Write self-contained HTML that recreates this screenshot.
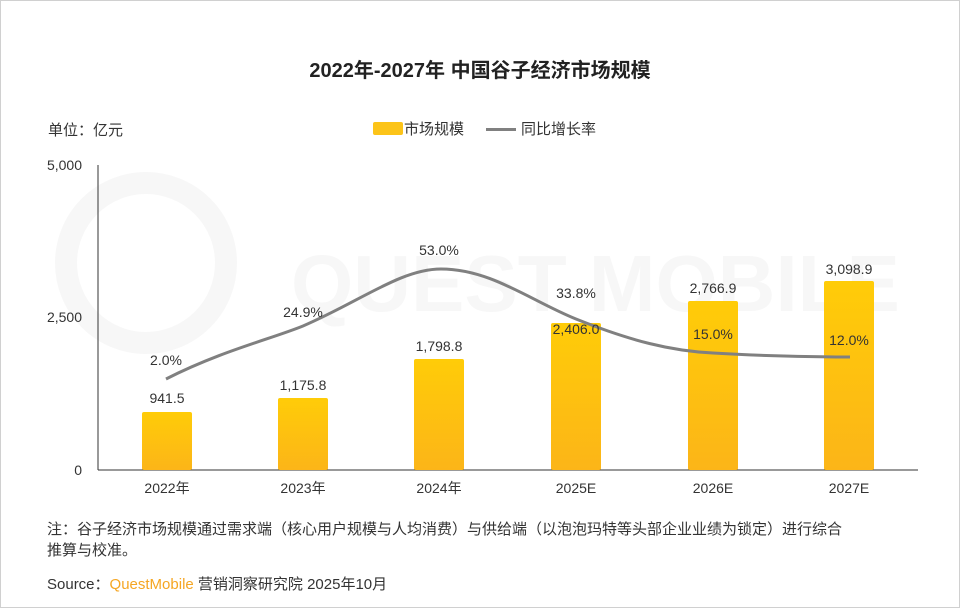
<!DOCTYPE html>
<html><head><meta charset="utf-8"><style>
body{margin:0;background:#fff}
.w{position:relative;width:958px;height:606px;border:1px solid #d0d0d0;overflow:hidden;font-family:"Liberation Sans","Noto Sans CJK SC",sans-serif;color:#333}
.t{position:absolute;white-space:nowrap}
</style></head><body><div class="w">
<div class="t" style="left:0;width:958px;text-align:center;top:53px;font-size:20px;font-weight:bold;color:#222">2022年-2027年 中国谷子经济市场规模</div>
<div class="t" style="left:47px;top:118px;font-size:15px">单位：亿元</div>
<div class="t" style="left:372px;top:121px;width:30px;height:13px;background:#fcc419;border-radius:2px"></div>
<div class="t" style="left:403px;top:117px;font-size:15px">市场规模</div>
<div class="t" style="left:485px;top:127px;width:30px;height:3px;background:#808080"></div>
<div class="t" style="left:520px;top:117px;font-size:15px">同比增长率</div>
<svg style="position:absolute;left:0;top:0" width="958" height="606">
<defs><linearGradient id="g" x1="0" y1="0" x2="0" y2="1"><stop offset="0" stop-color="#ffcc08"/><stop offset="1" stop-color="#fcb518"/></linearGradient></defs>
<g fill="none" stroke="#f7f7f7" stroke-width="22"><circle cx="145" cy="262" r="80"/></g>
<text x="290" y="310" font-size="80" fill="#f7f7f7" font-family="Liberation Sans" font-weight="bold">QUEST MOBILE</text>
<line x1="97" y1="164" x2="97" y2="469" stroke="#333"/>
<line x1="97" y1="469" x2="917" y2="469" stroke="#333"/>
<g fill="url(#g)">
<rect x="141" y="411" width="50" height="58" rx="2"/>
<rect x="277" y="397" width="50" height="72" rx="2"/>
<rect x="413" y="358" width="50" height="111" rx="2"/>
<rect x="550" y="322" width="50" height="147" rx="2"/>
<rect x="687" y="300" width="50" height="169" rx="2"/>
<rect x="823" y="280" width="50" height="189" rx="2"/>
</g>
<path d="M165,378 C220,350 270,338 302,325 C360,300 400,268 440,268 C490,268 530,300 575,318 C630,340 670,350 712,352 C760,355 820,356 849,356" fill="none" stroke="#808080" stroke-width="3"/>
<g font-size="14" fill="#333" text-anchor="middle" font-family="Liberation Sans">
<text x="166" y="402">941.5</text><text x="302" y="389">1,175.8</text><text x="438" y="350">1,798.8</text><text x="575" y="333">2,406.0</text><text x="712" y="292">2,766.9</text><text x="848" y="273">3,098.9</text>
<text x="165" y="364">2.0%</text><text x="302" y="316">24.9%</text><text x="438" y="254">53.0%</text><text x="575" y="297">33.8%</text><text x="712" y="338">15.0%</text><text x="848" y="344">12.0%</text>
<g text-anchor="end"><text x="81" y="169">5,000</text><text x="81" y="321">2,500</text><text x="81" y="474">0</text></g>
</g>
<g font-size="14" fill="#333" text-anchor="middle" font-family="Liberation Sans,Noto Sans CJK SC,sans-serif">
<text x="166" y="492">2022年</text><text x="302" y="492">2023年</text><text x="438" y="492">2024年</text><text x="575" y="492">2025E</text><text x="712" y="492">2026E</text><text x="848" y="492">2027E</text>
</g>
</svg>
<div class="t" style="left:46px;top:518px;font-size:15px;line-height:21px;white-space:normal;width:900px">注：谷子经济市场规模通过需求端（核心用户规模与人均消费）与供给端（以泡泡玛特等头部企业业绩为锁定）进行综合<br>推算与校准。</div>
<div class="t" style="left:46px;top:572px;font-size:15px">Source：<span style="color:#f5a623">QuestMobile</span> 营销洞察研究院 2025年10月</div>
</div></body></html>
